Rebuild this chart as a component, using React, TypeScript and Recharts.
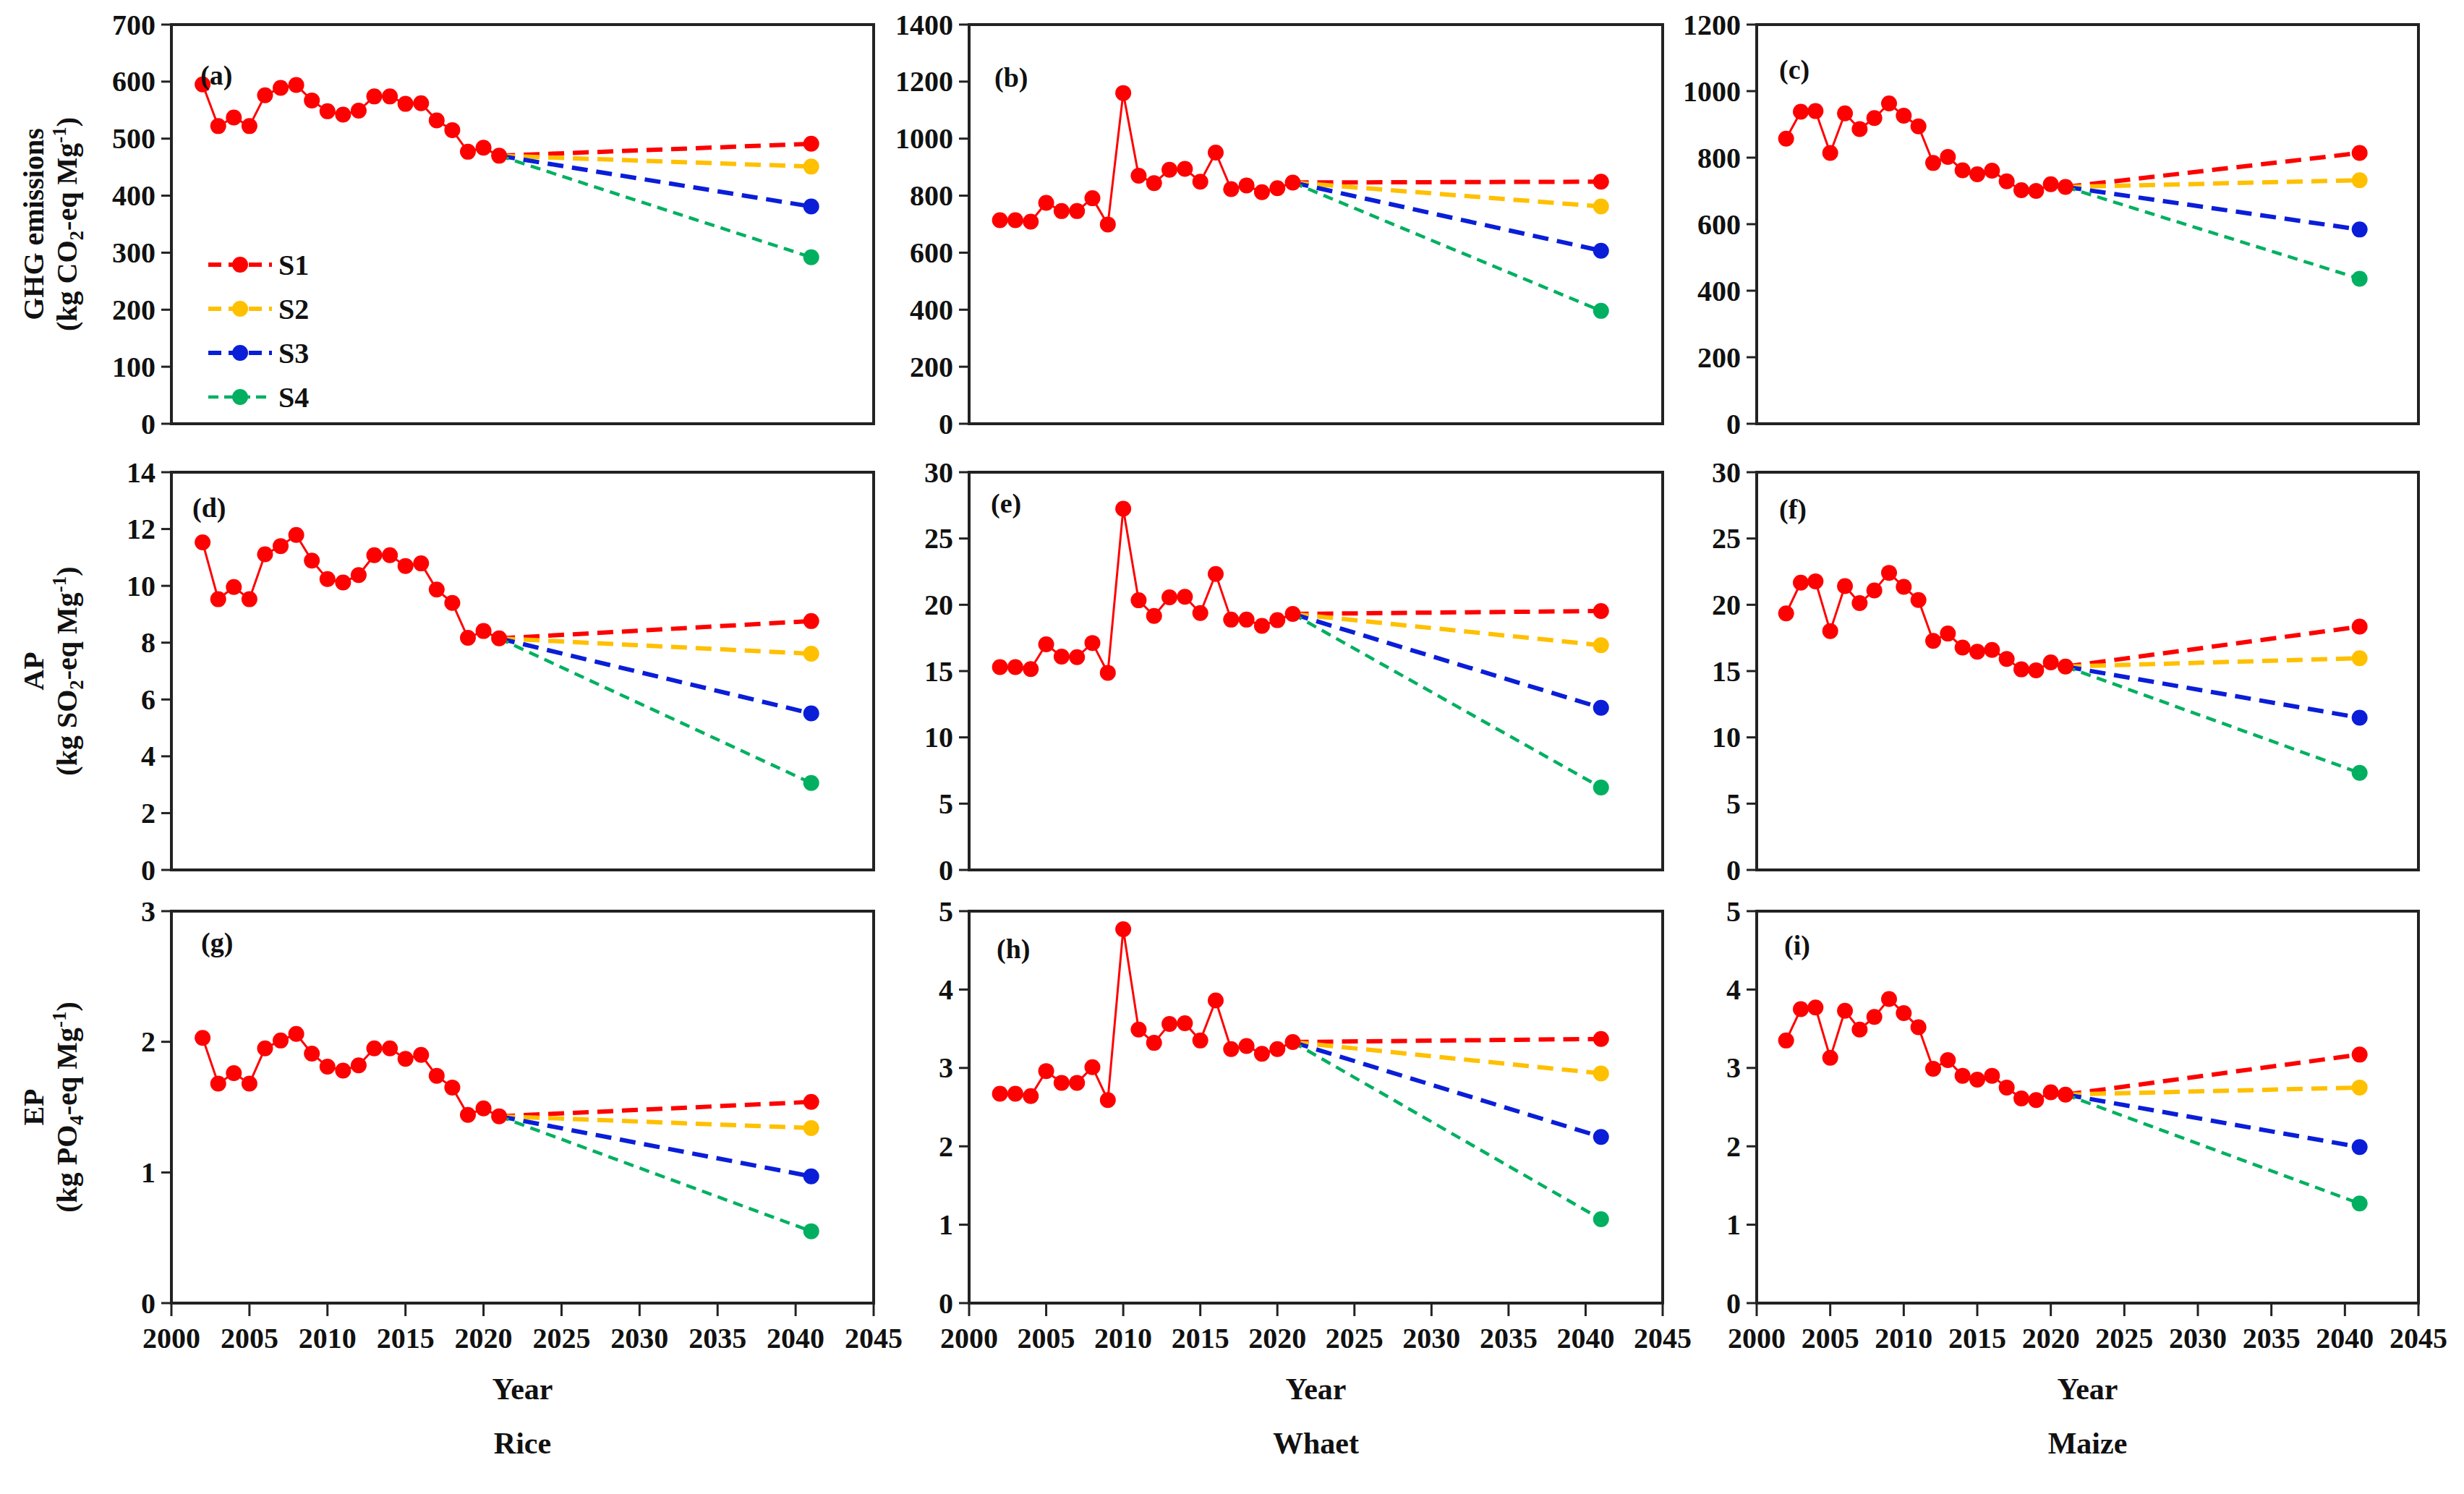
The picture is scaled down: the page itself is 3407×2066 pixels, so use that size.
import React from 'react';
import { LineChart, Line, XAxis, YAxis, ReferenceArea } from 'recharts';

const years = [2002, 2003, 2004, 2005, 2006, 2007, 2008, 2009, 2010, 2011, 2012, 2013, 2014, 2015, 2016, 2017, 2018, 2019, 2020, 2021];
const projStart = 2021;
const projEnd = 2041;
const xTicks = [2000, 2005, 2010, 2015, 2020, 2025, 2030, 2035, 2040, 2045];

const scenarios = ['S1', 'S2', 'S3', 'S4'];
const scenarioColors = ['#FF0000', '#FFC000', '#0A1ED8', '#00B060'];
const crops = ['Rice', 'Whaet', 'Maize'];
const panelLetters = ['(a)', '(b)', '(c)', '(d)', '(e)', '(f)', '(g)', '(h)', '(i)'];

const riceGHG = [595, 522, 537, 522, 576, 589, 594, 567, 548, 542, 549, 574, 574, 561, 562, 532, 515, 477, 484, 470];
const riceGHGEnd = [491, 451, 381, 292];
const wheatGHG = [714, 714, 709, 775, 746, 746, 791, 699, 1160, 870, 844, 891, 894, 849, 951, 823, 836, 812, 826, 846];
const wheatGHGEnd = [849, 762, 607, 396];
const maizeGHG = [857, 938, 940, 814, 933, 886, 919, 963, 926, 894, 784, 802, 762, 750, 761, 729, 702, 700, 720, 712];
const maizeGHGEnd = [814, 732, 584, 436];

const riceAP = [11.53, 9.53, 9.96, 9.53, 11.11, 11.4, 11.79, 10.89, 10.24, 10.12, 10.38, 11.08, 11.08, 10.7, 10.79, 9.87, 9.4, 8.17, 8.41, 8.15];
const riceAPEnd = [8.76, 7.61, 5.51, 3.06];
const wheatAP = [15.3, 15.3, 15.15, 17.02, 16.09, 16.05, 17.12, 14.87, 27.25, 20.34, 19.16, 20.56, 20.6, 19.38, 22.32, 18.88, 18.88, 18.41, 18.84, 19.31];
const wheatAPEnd = [19.53, 16.95, 12.23, 6.22];
const maizeAP = [19.35, 21.67, 21.77, 18.02, 21.41, 20.13, 21.08, 22.41, 21.35, 20.36, 17.28, 17.83, 16.77, 16.46, 16.6, 15.91, 15.13, 15.06, 15.65, 15.34];
const maizeAPEnd = [18.35, 15.97, 11.48, 7.32];

const riceEP = [2.03, 1.68, 1.76, 1.68, 1.95, 2.01, 2.06, 1.91, 1.81, 1.78, 1.82, 1.95, 1.95, 1.87, 1.9, 1.74, 1.65, 1.44, 1.49, 1.43];
const riceEPEnd = [1.54, 1.34, 0.97, 0.55];
const wheatEP = [2.67, 2.67, 2.64, 2.96, 2.81, 2.81, 3.01, 2.59, 4.77, 3.49, 3.32, 3.56, 3.57, 3.35, 3.86, 3.24, 3.28, 3.18, 3.24, 3.33];
const wheatEPEnd = [3.37, 2.93, 2.12, 1.07];
const maizeEP = [3.35, 3.75, 3.77, 3.13, 3.73, 3.49, 3.65, 3.88, 3.7, 3.52, 2.99, 3.1, 2.9, 2.85, 2.9, 2.75, 2.61, 2.59, 2.69, 2.66];
const maizeEPEnd = [3.17, 2.75, 1.99, 1.27];

const ghgRiceTicks = [0, 100, 200, 300, 400, 500, 600, 700];
const ghgWheatTicks = [0, 200, 400, 600, 800, 1000, 1200, 1400];
const ghgMaizeTicks = [0, 200, 400, 600, 800, 1000, 1200];
const apRiceTicks = [0, 2, 4, 6, 8, 10, 12, 14];
const apWheatTicks = [0, 5, 10, 15, 20, 25, 30];
const apMaizeTicks = [0, 5, 10, 15, 20, 25, 30];
const epRiceTicks = [0, 1, 2, 3];
const epWheatTicks = [0, 1, 2, 3, 4, 5];
const epMaizeTicks = [0, 1, 2, 3, 4, 5];

const FONT = "'Liberation Serif', 'Times New Roman', serif";

// layout (page pixels)
const colX = [237, 1340, 2429];
const colW = [971, 959, 915];
const rowY = [34, 653, 1260];
const rowH = [552, 550, 542];
const labelDX = [40, 35, 31, 29, 30, 31, 41, 38, 38];
const labelDY = [70, 73, 62, 49, 43, 51, 43, 52, 47];

const panelData = [
  [riceGHG, riceGHGEnd, ghgRiceTicks],
  [wheatGHG, wheatGHGEnd, ghgWheatTicks],
  [maizeGHG, maizeGHGEnd, ghgMaizeTicks],
  [riceAP, riceAPEnd, apRiceTicks],
  [wheatAP, wheatAPEnd, apWheatTicks],
  [maizeAP, maizeAPEnd, apMaizeTicks],
  [riceEP, riceEPEnd, epRiceTicks],
  [wheatEP, wheatEPEnd, epWheatTicks],
  [maizeEP, maizeEPEnd, epMaizeTicks],
];

function YTick(props: any) {
  const { x, y, payload } = props;
  return (
    <text x={x} y={y} textAnchor="end" dominantBaseline="central" fill="#111" fontSize={40} fontFamily={FONT} fontWeight="bold">
      {payload.value}
    </text>
  );
}

function XTick(props: any) {
  const { x, y, payload } = props;
  return (
    <text x={x} y={y} dy="0.75em" textAnchor="middle" fill="#111" fontSize={40} fontFamily={FONT} fontWeight="bold">
      {payload.value}
    </text>
  );
}

function endDot(color: string) {
  return (props: any) => {
    const { cx, cy, payload, index } = props;
    if (!payload || payload.year !== projEnd) return <g key={'e' + index} />;
    return <circle key={'d' + index} cx={cx} cy={cy} r={11} fill={color} stroke="none" />;
  };
}

function Panel({ idx }: { idx: number }) {
  const row = Math.floor(idx / 3);
  const col = idx % 3;
  const [histVals, ends, ticks] = panelData[idx] as [number[], number[], number[]];
  const max = ticks[ticks.length - 1];
  const showX = row === 2;
  const ML = 200, MT = 30, MR = 70;
  const XH = showX ? 110 : 0;
  const MB = showX ? 0 : 34;
  const w = colW[col];
  const h = rowH[row];
  const hist = years.map((y, i) => ({ year: y, v: histVals[i] }));
  const last = histVals[histVals.length - 1];
  return (
    <div style={{ position: 'absolute', left: colX[col] - ML, top: rowY[row] - MT, fontFamily: FONT }}>
      <LineChart width={ML + w + MR} height={MT + h + XH + MB} margin={{ top: MT, right: MR, left: 0, bottom: MB }}>
        <XAxis
          type="number"
          dataKey="year"
          domain={[2000, 2045]}
          ticks={xTicks}
          allowDataOverflow
          hide={!showX}
          height={XH}
          tickSize={18}
          tickMargin={14}
          axisLine={{ stroke: '#222', strokeWidth: 4 }}
          tickLine={{ stroke: '#222', strokeWidth: 3 }}
          tick={<XTick />}
          interval={0}
        />
        <YAxis
          type="number"
          domain={[0, max]}
          ticks={ticks}
          allowDataOverflow
          width={ML}
          tickSize={14}
          tickMargin={8}
          axisLine={{ stroke: '#222', strokeWidth: 4 }}
          tickLine={{ stroke: '#222', strokeWidth: 3 }}
          tick={<YTick />}
          interval={0}
        />
        <ReferenceArea x1={2000} x2={2045} y1={0} y2={max} fill="none" fillOpacity={0} stroke="#222" strokeWidth={4} />
        {scenarios.map((s, k) => (
          <Line
            key={s}
            data={[{ year: projStart, v: last }, { year: projEnd, v: ends[k] }]}
            dataKey="v"
            stroke={scenarioColors[k]}
            strokeWidth={k === 3 ? 4.5 : 6}
            strokeDasharray={k === 3 ? '14 9' : '22 12'}
            dot={endDot(scenarioColors[k])}
            activeDot={false}
            isAnimationActive={false}
          />
        ))}
        <Line
          data={hist}
          dataKey="v"
          stroke="#FF0000"
          strokeWidth={3}
          dot={{ r: 11, fill: '#FF0000', stroke: 'none' }}
          activeDot={false}
          isAnimationActive={false}
        />
      </LineChart>
    </div>
  );
}

const yLabels = [
  ['GHG emissions', 'CO', '2'],
  ['AP', 'SO', '2'],
  ['EP', 'PO', '4'],
];

function Overlay() {
  const textProps = { fontFamily: FONT, fontWeight: 'bold' as const, fill: '#111' };
  return (
    <svg width={3407} height={2066} style={{ position: 'absolute', left: 0, top: 0, pointerEvents: 'none' }}>
      {yLabels.map((lab, r) => {
        const cy = rowY[r] + rowH[r] / 2;
        const x1 = 60, x2 = 106;
        return (
          <g key={'yl' + r}>
            <text x={x1} y={cy} transform={`rotate(-90 ${x1} ${cy})`} textAnchor="middle" fontSize={40} {...textProps}>
              {lab[0]}
            </text>
            <text x={x2} y={cy} transform={`rotate(-90 ${x2} ${cy})`} textAnchor="middle" fontSize={40} {...textProps}>
              <tspan>(kg {lab[1]}</tspan>
              <tspan fontSize={27} dy={9}>{lab[2]}</tspan>
              <tspan dy={-9}>-eq Mg</tspan>
              <tspan fontSize={27} dy={-15}>-1</tspan>
              <tspan dy={15}>)</tspan>
            </text>
          </g>
        );
      })}
      {panelLetters.map((l, i) => {
        const row = Math.floor(i / 3);
        const col = i % 3;
        return (
          <text key={l} x={colX[col] + labelDX[i]} y={rowY[row] + labelDY[i]} dominantBaseline="central" fontSize={38} {...textProps}>
            {l}
          </text>
        );
      })}
      {scenarios.map((s, k) => {
        const y = 366 + k * 61;
        return (
          <g key={'lg' + s}>
            <line x1={288} x2={376} y1={y} y2={y} stroke={scenarioColors[k]} strokeWidth={k === 3 ? 4.5 : 6} strokeDasharray={k === 3 ? '14 8' : '18 10'} />
            <circle cx={332} cy={y} r={11} fill={scenarioColors[k]} />
            <text x={385} y={y} dominantBaseline="central" fontSize={40} {...textProps}>{s}</text>
          </g>
        );
      })}
      {crops.map((c, i) => {
        const cx = colX[i] + colW[i] / 2;
        return (
          <g key={c}>
            <text x={cx} y={1921} textAnchor="middle" dominantBaseline="central" fontSize={42} {...textProps}>Year</text>
            <text x={cx} y={1996} textAnchor="middle" dominantBaseline="central" fontSize={42} {...textProps}>{c}</text>
          </g>
        );
      })}
    </svg>
  );
}

export default function App() {
  return (
    <div style={{ position: 'absolute', left: 0, top: 0, width: 3407, height: 2066, background: '#fff', overflow: 'hidden', fontFamily: FONT }}>
      {panelData.map((_, i) => (
        <Panel key={i} idx={i} />
      ))}
      <Overlay />
    </div>
  );
}
